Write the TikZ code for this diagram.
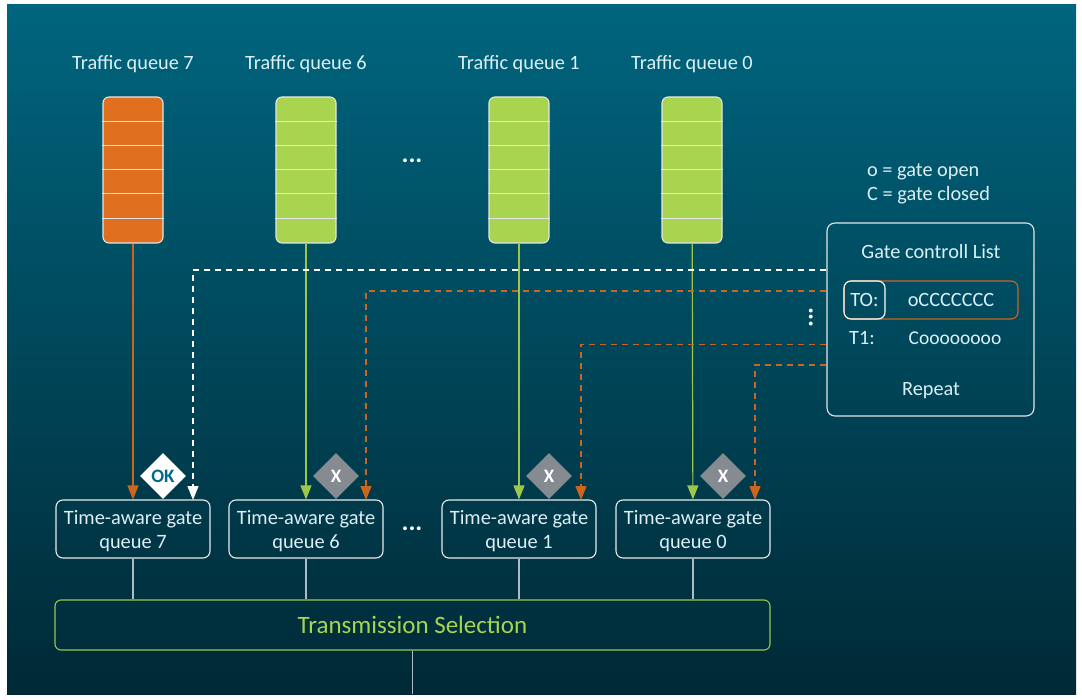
\documentclass[tikz,border=0pt]{standalone}
\usepackage{fontspec}
\setmainfont{Carlito}
\usetikzlibrary{arrows.meta,shapes.geometric}
\definecolor{txt}{HTML}{DCEFF5}
\definecolor{orangeq}{HTML}{E07020}
\definecolor{orangeln}{HTML}{CC661F}
\definecolor{greenq}{HTML}{A9D450}
\definecolor{greenln}{HTML}{9CC748}
\definecolor{greyln}{HTML}{AEBBC0}
\definecolor{greyd}{HTML}{858B91}
\definecolor{okblue}{HTML}{006A8A}
\newcommand{\gatetxt}[1]{\rule{0pt}{18pt}Time-aware gate\\queue #1}
\tikzset{
 x=1pt,y=-1pt,
 lbl/.style={text=txt,font=\fontsize{20.3}{24}\selectfont,inner sep=0pt,align=center},
 queuebox/.style={draw=white!90!black,line width=1.1pt,rounded corners=6pt,minimum width=60pt,minimum height=146pt,inner sep=0pt},
 qorange/.style={queuebox,fill=orangeq},
 qgreen/.style={queuebox,fill=greenq},
 gatebox/.style={draw=white!92!black,line width=1.1pt,rounded corners=7pt,minimum width=154pt,minimum height=58pt,inner sep=0pt,text=txt,align=center,font=\fontsize{20.4}{24}\selectfont},
 tick/.style={white!90!black,line width=1pt},
 dia/.style={diamond,aspect=1,minimum size=46pt,inner sep=0pt,font=\fontsize{19}{22}\bfseries\selectfont},
 flow/.style={line width=1.2pt,-{Triangle[length=14pt,width=11pt]}},
 ctl/.style={line width=1.3pt,dash pattern=on 6pt off 5pt,-{Triangle[length=14pt,width=11pt]}},
 plain/.style={greyln,line width=1.1pt},
 dots/.style={text=white,font=\fontsize{26}{26}\bfseries\selectfont,inner sep=0pt},
}
\begin{document}
\begin{tikzpicture}
\useasboundingbox (0,0) rectangle (1082,700);
\fill[white] (0,0) rectangle (1082,700);
\shade[top color={rgb,255:red,0;green,101;blue,126},middle color={rgb,255:red,0;green,68;blue,86},bottom color={rgb,255:red,0;green,41;blue,54}] (7,5) rectangle (1076,694);

% titles
\node[lbl] (t7) at (133,64) {Traffic queue 7};
\node[lbl] (t6) at (306,64) {Traffic queue 6};
\node[lbl] (t1) at (519,64) {Traffic queue 1};
\node[lbl] (t0) at (692,64) {Traffic queue 0};

% queues
\node[qorange] (q7) at (133,170) {};
\node[qgreen] (q6) at (306,170) {};
\node[qgreen] (q1) at (519,170) {};
\node[qgreen] (q0) at (692,170) {};
\foreach \q in {q7,q6,q1,q0}{
  \foreach \yy in {121.5,146,170,194,218.5}{
    \draw[tick] (\q.west |- 0,\yy) -- (\q.east |- 0,\yy);
  }
}
\node[dots] (dq) at (412,161) {...};

% gates
\node[gatebox] (g7) at (133,529) {\gatetxt{7}};
\node[gatebox] (g6) at (306,529) {\gatetxt{6}};
\node[gatebox] (g1) at (519,529) {\gatetxt{1}};
\node[gatebox] (g0) at (693,529) {\gatetxt{0}};
\node[dots] (dg) at (412,529) {...};

% transmission selection
\node[draw=greenln,line width=1.1pt,rounded corners=6pt,minimum width=715pt,minimum height=50pt,inner sep=0pt,text=greenq,font=\fontsize{25}{29}\selectfont] (ts) at (412.5,625) {Transmission Selection};
\coordinate (out) at (412.5,694);

% gate control list
\node[draw=white!90!black,line width=1.1pt,rounded corners=8pt,minimum width=207pt,minimum height=193pt,inner sep=0pt] (gcl) at (930.5,319.5) {};
\node[lbl] (gcltitle) at (931,252) {Gate controll List};
\node[draw=orangeln,line width=1.1pt,rounded corners=7pt,minimum width=174pt,minimum height=38pt,inner sep=0pt] (row0) at (931,300) {};
\node[draw=white,line width=1.1pt,rounded corners=7pt,minimum width=41pt,minimum height=38pt,inner sep=0pt,text=txt,font=\fontsize{20.3}{24}\selectfont] (t0b) at (864.5,300) {TO:};
\node[lbl] (v0) at (951,300) {oCCCCCCC};
\node[lbl] (t1l) at (862,338) {T1:};
\node[lbl,font=\fontsize{19.5}{24}\selectfont] (v1) at (955,338) {Coooooooo};
\node[lbl] (rep) at (931,391) {Repeat};
\node[lbl,anchor=west] (lego) at (867,171.5) {o = gate open};
\node[lbl,anchor=west] (legc) at (867,195) {C = gate closed};
\node[dots,rotate=90] (dv) at (811,317.5) {...};

% diamonds
\node[dia,fill=white,text=okblue] (ok) at (163,476) {OK};
\node[dia,fill=greyd,text=white] (x6) at (336,476) {X};
\node[dia,fill=greyd,text=white] (x1) at (549,476) {X};
\node[dia,fill=greyd,text=white] (x0) at (723,476) {X};

% solid connectors
\draw[flow,orangeln] (q7) -- (g7);
\draw[flow,greenln] (q6) -- (g6);
\draw[flow,greenln] (q1) -- (g1);
\draw[flow,greenln] (q0) -- (g0);

% control connectors
\coordinate (a7) at (193,500);
\coordinate (a6) at (366,500);
\coordinate (a1) at (581,500);
\coordinate (a0) at (755,500);
\draw[ctl,white] (gcl.west |- 0,270) -| (a7);
\draw[ctl,orangeln] (gcl.west |- 0,291) -| (a6);
\draw[ctl,orangeln] (gcl.west |- 0,344.5) -| (a1);
\draw[ctl,orangeln] (gcl.west |- 0,365) -| (a0);

% to selection
\draw[plain] (g7.south) -- (ts.north -| g7.south);
\draw[plain] (g6.south) -- (ts.north -| g6.south);
\draw[plain] (g1.south) -- (ts.north -| g1.south);
\draw[plain] (g0.south) -- (ts.north -| g0.south);
\draw[plain] (ts.south) -- (out);
\end{tikzpicture}
\end{document}
